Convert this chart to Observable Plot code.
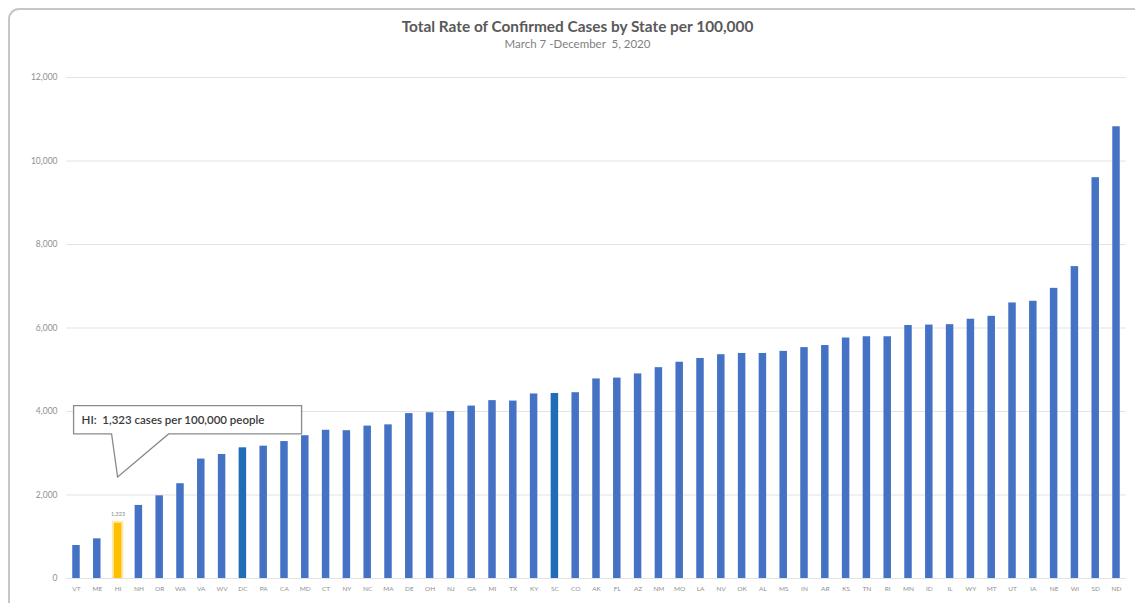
<!DOCTYPE html>
<html>
<head>
<meta charset="utf-8">
<script src="https://cdn.jsdelivr.net/npm/d3@7"></script>
<script src="https://cdn.jsdelivr.net/npm/@observablehq/plot@0.6"></script>
<style>
  body { margin: 0; background: #fff; font-family: Lato, "Noto Sans", sans-serif; overflow: hidden; }
  #frame { position: absolute; left: 8px; top: 8px; width: 1160px; height: 640px;
           border: 2px solid #c6c6c6; border-radius: 11px; box-sizing: border-box; }
  #title { position: absolute; left: 10px; width: 1135px; top: 17px; text-align: center;
           font-size: 15.4px; font-weight: bold; color: #595959; }
  #subtitle { position: absolute; left: 10px; width: 1135px; top: 37px; text-align: center;
              font-size: 11.5px; color: #7f7f7f; }
  #chart { position: absolute; left: 0; top: 60px; }
</style>
</head>
<body>
<div id="frame"></div>
<div id="title">Total Rate of Confirmed Cases by State per 100,000</div>
<div id="subtitle">March 7 -December&nbsp; 5, 2020</div>
<div id="chart"></div>
<script>
// Cumulative confirmed cases per 100,000 residents, sorted ascending
const states = ["VT","ME","HI","NH","OR","WA","VA","WV","DC","PA","CA","MD","CT","NY","NC","MA","DE","OH","NJ","GA","MI","TX","KY","SC","CO","AK","FL","AZ","NM","MO","LA","NV","OK","AL","MS","IN","AR","KS","TN","RI","MN","ID","IL","WY","MT","UT","IA","NE","WI","SD","ND"];
const rates = [790, 950, 1323, 1750, 1980, 2270, 2860, 2970, 3130, 3170, 3280, 3420, 3550, 3540, 3650, 3680, 3950, 3970, 4000, 4130, 4260, 4250, 4420, 4430, 4450, 4780, 4800, 4900, 5050, 5180, 5270, 5360, 5390, 5390, 5440, 5530, 5580, 5760, 5790, 5790, 6060, 6070, 6080, 6210, 6280, 6600, 6640, 6950, 7470, 9600, 10820];
const yTicks = [0, 2000, 4000, 6000, 8000, 10000, 12000];

const focusState = "HI";
const darkStates = ["DC", "SC"];
const calloutTip = 2420;         // value where the callout pointer ends
const calloutBox = [3450, 4130]; // value extent of the callout box

const data = states.map((s, i) => ({state: s, rate: rates[i]}));
const focus = data.find(d => d.state === focusState);
const fmt = d3.format(",");
const calloutText = `${focus.state}:  ${fmt(focus.rate)} cases per 100,000 people`;

const colorOf = d => d.state === focusState ? "#FFC000" : darkStates.includes(d.state) ? "#1F6CB8" : "#4472C4";

// Speech-bubble callout pointing at the highlighted bar
function callout(index, scales) {
  const x = scales.x;
  const bw = x.bandwidth ? x.bandwidth() : 0;
  const tipX = x(focusState) + bw / 2;
  const tipY = scales.y(calloutTip);
  const y0 = scales.y(calloutBox[0]);
  const y1 = scales.y(calloutBox[1]);
  const left = tipX - 44, right = tipX + 184;
  const g = d3.create("svg:g");
  g.append("path")
    .attr("d", `M${left},${y1}H${right}V${y0}H${tipX + 51}L${tipX},${tipY}L${tipX - 6},${y0}H${left}Z`)
    .attr("fill", "#fff")
    .attr("stroke", "#8a8a8a")
    .attr("stroke-width", 1.3);
  g.append("text")
    .attr("x", left + 8)
    .attr("y", (y0 + y1) / 2)
    .attr("dy", "0.35em")
    .attr("text-anchor", "start")
    .attr("font-size", 11.5)
    .attr("font-weight", 600)
    .attr("fill", "#3a3a3a")
    .attr("xml:space", "preserve")
    .style("white-space", "pre")
    .text(calloutText);
  return g.node();
}

const chart = Plot.plot({
  width: 1135,
  height: 543,
  marginLeft: 66,
  marginRight: 9,
  marginTop: 17,
  marginBottom: 25,
  style: {fontFamily: "Lato, 'Noto Sans', sans-serif", background: "transparent"},
  x: {domain: states, paddingInner: 0.64, paddingOuter: 0.3, label: null},
  y: {domain: [0, 12000], label: null},
  marks: [
    Plot.gridY(yTicks, {stroke: "#e3e3e3", strokeOpacity: 1, strokeWidth: 1}),
    Plot.axisY(yTicks, {tickSize: 0, tickPadding: 9, tickFormat: d3.format(","), fontSize: 8.5, fill: "#8f8f8f", label: null}),
    Plot.axisX({tickSize: 0, tickPadding: 8, fontSize: 6.5, fill: "#8f8f8f", label: null}),
    // soft halo behind the highlighted bar
    Plot.barY(data.filter(d => d.state === focusState), {x: "state", y: "rate", fill: "#FFE9A8", insetLeft: -2, insetRight: -2, insetTop: -2}),
    Plot.barY(data, {x: "state", y: "rate", fill: colorOf}),
    Plot.text(data.filter(d => d.state === focusState), {x: "state", y: "rate", text: d => fmt(d.rate), dy: -9, fontSize: 5.5, fill: "#8a8a8a"}),
    callout
  ]
});
document.getElementById("chart").append(chart);
</script>
</body>
</html>
